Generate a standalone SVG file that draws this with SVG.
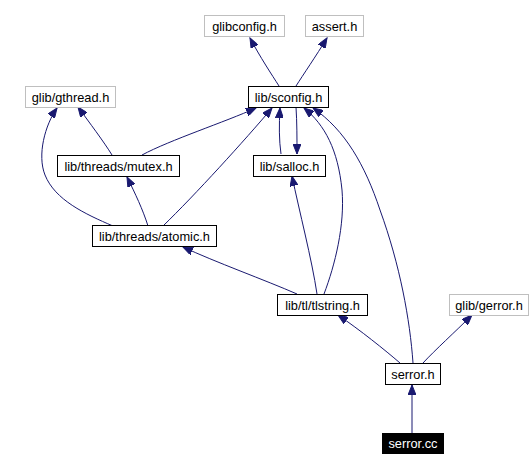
<svg xmlns="http://www.w3.org/2000/svg" width="532" height="470" viewBox="0 0 532 470">
<style>
.n rect{fill:#fff;stroke:#000;stroke-width:1}
.g rect{stroke:#bfbfbf}
.n text{font-family:"Liberation Sans",Arial,sans-serif;font-size:12.8px;text-anchor:middle;fill:#000}
.b rect{fill:#000}
.b text{fill:#fff}
.e path{fill:none;stroke:#191970;stroke-width:1;marker-end:url(#a)}
</style>
<defs>
<marker id="a" markerUnits="userSpaceOnUse" markerWidth="11" markerHeight="8" refX="10" refY="4" orient="auto">
<path d="M0,0 L10,4 L0,8 z" fill="#191970" stroke="#191970" stroke-width="1"/>
</marker>
</defs>
<rect width="532" height="470" fill="#fff"/>
<g class="e" id="edges">
<path d="M279,86 C272,75 260,57 250,38"/>
<path d="M296,86 C303,75 316,56 327,38"/>
<path d="M112,155 C104,142 89,122 78,107"/>
<path d="M113,226 C85,214 55,200 45,175 C37,155 45,125 57,108"/>
<path d="M142,155 C170,140 225,122 256,108"/>
<path d="M148,226 C143,210 135,193 127,177"/>
<path d="M163,226 C195,195 245,140 272,108"/>
<path d="M281,154 C279,140 279,125 280,108"/>
<path d="M296,107 C297,122 297,140 297,154"/>
<path d="M317,294 C312,260 299,210 292,176"/>
<path d="M324,294 C335,265 345,225 342,190 C338,150 325,125 304,108"/>
<path d="M297,294 C265,280 215,262 183,247"/>
<path d="M400,363 C385,350 360,330 338,315"/>
<path d="M423,363 C435,350 455,332 472,315"/>
<path d="M413,363 C410,320 400,265 380,210 C365,165 345,130 313,108"/>
<path d="M412,433 L412,385"/>
</g>
<g class="n g" id="glibconfig"><rect x="204.5" y="15.5" width="80" height="21"/><text x="244.5" y="31">glibconfig.h</text></g>
<g class="n g" id="assert"><rect x="305.5" y="15.5" width="58" height="21"/><text x="334.5" y="31">assert.h</text></g>
<g class="n" id="sconfig"><rect x="248.5" y="86.5" width="80" height="21"/><text x="288.5" y="102">lib/sconfig.h</text></g>
<g class="n g" id="gthread"><rect x="25.5" y="86.5" width="90" height="21"/><text x="70.5" y="102">glib/gthread.h</text></g>
<g class="n" id="mutex"><rect x="57.5" y="155.5" width="122" height="21"/><text x="118.5" y="171">lib/threads/mutex.h</text></g>
<g class="n" id="salloc"><rect x="253.5" y="155.5" width="72" height="21"/><text x="289.5" y="171">lib/salloc.h</text></g>
<g class="n" id="atomic"><rect x="92.5" y="225.5" width="124" height="21"/><text x="154.5" y="241">lib/threads/atomic.h</text></g>
<g class="n" id="tlstring"><rect x="277.5" y="294.5" width="90" height="21"/><text x="322.5" y="310">lib/tl/tlstring.h</text></g>
<g class="n g" id="gerror"><rect x="449.5" y="294.5" width="79" height="21"/><text x="489" y="310">glib/gerror.h</text></g>
<g class="n" id="serror_h"><rect x="385.5" y="363.5" width="55" height="21"/><text x="413" y="379">serror.h</text></g>
<g class="n b" id="serror_cc"><rect x="382.5" y="433.5" width="61" height="20"/><text x="413" y="448">serror.cc</text></g>
</svg>
